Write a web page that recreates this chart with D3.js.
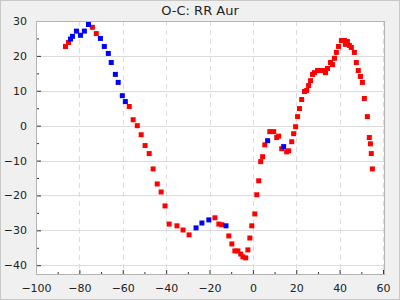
<!DOCTYPE html>
<html>
<head>
<meta charset="utf-8">
<script src="https://cdn.jsdelivr.net/npm/d3@7"></script>
<style>
  body { margin: 0; background: #f0f0f0; }
  svg { display: block; font-family: "DejaVu Sans", sans-serif; }
</style>
</head>
<body>
<div id="chart"></div>
<script>
// data (cycle vs O-C)
var redX = [-86.4, -85.0, -74.0, -72.2, -57.0, -55.2, -53.3, -51.5, -49.7, -47.8, -46.0, -44.1, -42.3, -40.5,
            -38.6, -35.0, -32.2, -29.4, -17.5, -15.7, -14.3, -11.1, -9.7, -8.3, -6.9, -5.6, -4.6, -3.3, -2.3,
            -1.4, -0.5, 0.9, 1.8, 2.7, 3.6, 4.5, 5.5, 7.8, 9.6, 11.0, 11.9, 13.3, 15.6, 16.5, 17.9, 18.8, 19.7,
            20.6, 21.5, 22.5, 23.8, 24.8, 25.7, 26.6, 27.5, 28.4, 29.8, 31.2, 32.1, 33.5, 34.4, 35.8, 36.7, 37.6,
            38.5, 39.5, 40.8, 42.2, 42.7, 43.6, 44.5, 45.4, 46.8, 47.7, 48.6, 49.6, 50.5, 51.4, 52.8, 53.7, 54.2,
            54.6, 55.1];
var redY = [22.7, 23.85, 28.2, 26.4, 5.5, 1.7, 0.0, -2.6, -5.7, -8.0, -12.4, -16.7, -19.0, -23.0,
            -28.2, -28.7, -29.9, -31.3, -26.4, -28.2, -28.4, -31.6, -33.9, -35.9, -35.9, -36.8, -37.6, -37.9, -35.6,
            -32.2, -28.7, -25.3, -19.8, -15.8, -10.3, -8.9, -5.5, -1.7, -1.7, -3.4, -3.0, -6.6, -7.5, -7.2, -4.6, -2.3, -0.3,
            2.6, 4.9, 7.5, 9.8, 10.1, 11.5, 12.9, 14.7, 15.2, 15.8, 15.8, 15.8, 15.2, 16.4, 18.1, 17.5, 19.3,
            21.0, 22.7, 24.4, 24.4, 23.3, 24.1, 23.0, 22.4, 21.0, 18.1, 15.8, 14.1, 12.4, 7.8, 2.6, -3.4, -5.2,
            -8.0, -12.4];
var blueX = [-84.1, -83.2, -81.35, -79.5, -77.7, -75.8, -70.3, -68.5, -66.65, -65.3, -63.4, -62.1, -60.2, -58.8,
             -26.2, -23.5, -20.3, -12.4, 6.8, 14.2];
var blueY = [24.8, 25.6, 27.1, 25.9, 27.1, 29.0, 25.0, 22.7, 20.7, 18.1, 14.7, 12.4, 8.6, 6.9,
             -29.3, -27.9, -27.0, -28.7, -4.3, -6.0];

var title = "O-C: RR Aur";
var xTicks = [-100, -80, -60, -40, -20, 0, 20, 40, 60];
var yTicks = [-40, -30, -20, -10, 0, 10, 20, 30];

var W = 400, H = 300;
var margin = { top: 21, right: 15, bottom: 25, left: 36 };
var w = W - margin.left - margin.right,
    h = H - margin.top - margin.bottom;

var svg = d3.select("#chart").append("svg")
    .attr("width", W)
    .attr("height", H);

svg.append("rect")
    .attr("x", 0.5).attr("y", 0.5)
    .attr("width", W - 1).attr("height", H - 1)
    .attr("fill", "#f0f0f0")
    .attr("stroke", "#c8c8c8");

svg.append("text")
    .attr("x", W / 2)
    .attr("y", 15)
    .attr("text-anchor", "middle")
    .style("font-size", "13px")
    .attr("fill", "#222")
    .text(title);

var g = svg.append("g")
    .attr("transform", "translate(" + margin.left + "," + margin.top + ")");

// axis range stops a bit short of the right frame edge
var x = d3.scaleLinear().domain([-100, 60]).range([0, w - 2]);
var y = d3.scaleLinear().domain([-42.8, 30]).range([h, 0]);

g.append("rect")
    .attr("width", w).attr("height", h)
    .attr("fill", "white");

// grid
g.selectAll(".hgrid")
    .data(yTicks)
    .enter().append("line")
    .attr("x1", 0).attr("x2", w)
    .attr("y1", function(d) { return Math.round(y(d)) + 0.5; })
    .attr("y2", function(d) { return Math.round(y(d)) + 0.5; })
    .attr("stroke", "#dcdcdc")
    .attr("stroke-width", 1);

g.selectAll(".vgrid")
    .data(xTicks)
    .enter().append("line")
    .attr("x1", function(d) { return Math.round(x(d)) + 0.5; })
    .attr("x2", function(d) { return Math.round(x(d)) + 0.5; })
    .attr("y1", 0).attr("y2", h)
    .attr("stroke", "#dcdcdc")
    .attr("stroke-width", 1)
    .style("stroke-dasharray", "5,4");

// axes, ticks inside the frame
var xAxis = g.append("g")
    .attr("transform", "translate(0," + h + ")")
    .call(d3.axisBottom(x).tickValues(xTicks).tickSizeInner(-5).tickSizeOuter(0).tickPadding(9)
        .tickFormat(d3.format("d")));
var xMinor = g.append("g")
    .attr("transform", "translate(0," + h + ")")
    .call(d3.axisBottom(x).tickValues(d3.range(-90, 60, 20)).tickSizeInner(-3).tickSizeOuter(0).tickFormat(""));

var yAxis = g.append("g")
    .call(d3.axisLeft(y).tickValues(yTicks).tickSizeInner(-5).tickSizeOuter(0).tickPadding(9)
        .tickFormat(d3.format("d")));
var yMinor = g.append("g")
    .call(d3.axisLeft(y).tickValues(d3.range(-35, 30, 10)).tickSizeInner(-3).tickSizeOuter(0).tickFormat(""));

[xAxis, xMinor, yAxis, yMinor].forEach(function(a) {
    a.select(".domain").remove();
    a.selectAll("line").attr("stroke", "#333");
    a.selectAll("text")
        .style("font-family", "DejaVu Sans, sans-serif")
        .style("font-size", "11px")
        .attr("fill", "#222");
});

// frame
g.append("rect")
    .attr("x", 0.5).attr("y", 0.5)
    .attr("width", w - 1).attr("height", h - 1)
    .attr("fill", "none")
    .attr("stroke", "#b4b4b4");

// points
var s = 5;
g.selectAll(".red")
    .data(d3.range(redX.length))
    .enter().append("rect")
    .attr("x", function(i) { return x(redX[i]) - s / 2; })
    .attr("y", function(i) { return y(redY[i]) - s / 2; })
    .attr("width", s).attr("height", s)
    .attr("fill", "#ff0000");

g.selectAll(".blue")
    .data(d3.range(blueX.length))
    .enter().append("rect")
    .attr("x", function(i) { return x(blueX[i]) - s / 2; })
    .attr("y", function(i) { return y(blueY[i]) - s / 2; })
    .attr("width", s).attr("height", s)
    .attr("fill", "#0000ff");
</script>
</body>
</html>
